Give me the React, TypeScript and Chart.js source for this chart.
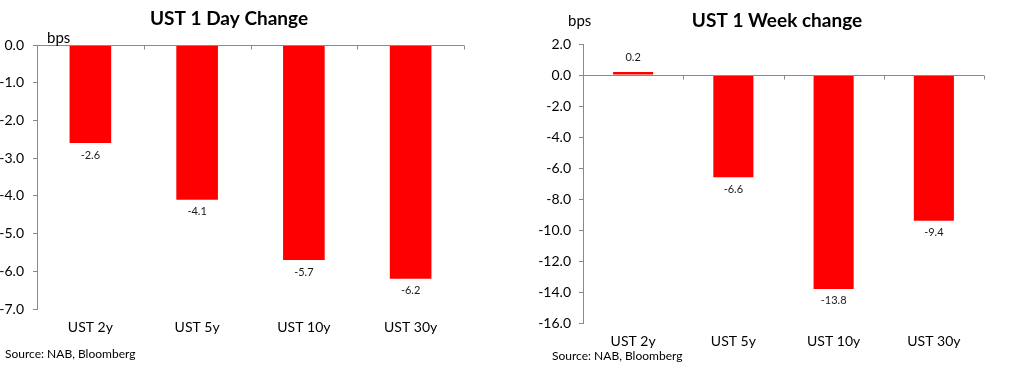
import React, { useEffect, useRef } from "react";
import { Chart, registerables } from "chart.js";

Chart.register(...registerables);

const categories = ["UST 2y", "UST 5y", "UST 10y", "UST 30y"];
const dayChange = [-2.6, -4.1, -5.7, -6.2];
const weekChange = [0.2, -6.6, -13.8, -9.4];
const dayTitle = "UST 1 Day Change";
const weekTitle = "UST 1 Week change";
const unitLabel = "bps";
const sourceText = "Source: NAB, Bloomberg";
const dayScale = [-7, 0, 1];
const weekScale = [-16, 2, 2];

const FONT = "Lato, 'Open Sans', 'DejaVu Sans', sans-serif";
const AXIS_COLOR = "#8a8a8a";
const BAR_COLOR = "#ff0000";

type Panel = {
  left: number;
  width: number;
  values: number[];
  title: string;
  scale: number[];
  areaLeft: number;
  areaTop: number;
  padRight: number;
  xAxisHeight: number;
  tickPad: number;
  barPct: number;
  titlePos: [number, number];
  bpsPos: [number, number];
  sourcePos: [number, number];
};

const panels: Panel[] = [
  {
    left: 0,
    width: 500,
    values: dayChange,
    title: dayTitle,
    scale: dayScale,
    areaLeft: 37,
    areaTop: 45,
    padRight: 36,
    xAxisHeight: 60,
    tickPad: 9,
    barPct: 0.39,
    titlePos: [229, 19],
    bpsPos: [47, 38],
    sourcePos: [5, 354],
  },
  {
    left: 510,
    width: 508,
    values: weekChange,
    title: weekTitle,
    scale: weekScale,
    areaLeft: 73,
    areaTop: 44,
    padRight: 34,
    xAxisHeight: 46,
    tickPad: 8,
    barPct: 0.4,
    titlePos: [267, 21],
    bpsPos: [58, 21],
    sourcePos: [42, 356],
  },
];

const decorPlugin = {
  id: "decor",
  afterDatasetsDraw(chart: any, _args: any, opts: any) {
    const { ctx, chartArea, scales } = chart;
    const xs = scales.x;
    const ys = scales.y;
    const y0 = Math.round(ys.getPixelForValue(0)) + 0.5;
    ctx.save();
    ctx.strokeStyle = AXIS_COLOR;
    ctx.lineWidth = 1;
    ctx.beginPath();
    ctx.moveTo(chartArea.left, y0);
    ctx.lineTo(chartArea.right, y0);
    const n = xs.ticks.length;
    for (let i = 0; i <= n; i++) {
      const px = Math.round(xs.getPixelForValue(i - 0.5)) + 0.5;
      ctx.moveTo(px, y0);
      ctx.lineTo(px, y0 + 4);
    }
    ctx.stroke();

    // data labels
    const meta = chart.getDatasetMeta(0);
    const data = chart.data.datasets[0].data as number[];
    ctx.fillStyle = "#1a1a1a";
    ctx.font = `11px ${FONT}`;
    ctx.textAlign = "center";
    ctx.textBaseline = "middle";
    meta.data.forEach((el: any, i: number) => {
      const v = data[i];
      const ty = v < 0 ? el.y + 12 : el.y - 14;
      ctx.fillText(v.toFixed(1), el.x, ty);
    });
    ctx.restore();
  },
  afterDraw(chart: any, _args: any, opts: any) {
    const { ctx } = chart;
    ctx.save();
    ctx.fillStyle = "#000";
    ctx.textBaseline = "middle";
    ctx.textAlign = "center";
    ctx.font = `bold 19px ${FONT}`;
    ctx.fillText(opts.title, opts.titlePos[0], opts.titlePos[1]);
    ctx.textAlign = "left";
    ctx.font = `15px ${FONT}`;
    ctx.fillText(opts.unit, opts.bpsPos[0], opts.bpsPos[1]);
    ctx.font = `12px ${FONT}`;
    ctx.fillText(opts.source, opts.sourcePos[0], opts.sourcePos[1]);
    ctx.restore();
  },
};

function BarPanel({ p }: { p: Panel }) {
  const ref = useRef<HTMLCanvasElement | null>(null);
  useEffect(() => {
    if (!ref.current) return;
    const chart = new Chart(ref.current, {
      type: "bar",
      data: {
        labels: categories,
        datasets: [
          {
            data: p.values,
            backgroundColor: BAR_COLOR,
            borderWidth: 0,
            barPercentage: p.barPct,
            categoryPercentage: 1,
          },
        ],
      },
      plugins: [decorPlugin as any],
      options: {
        animation: false,
        responsive: false,
        devicePixelRatio: 1,
        layout: { padding: { top: p.areaTop, right: p.padRight, left: 0, bottom: 0 } },
        plugins: {
          legend: { display: false },
          title: { display: false },
          tooltip: { enabled: false },
          decor: {
            title: p.title,
            titlePos: p.titlePos,
            unit: unitLabel,
            bpsPos: p.bpsPos,
            source: sourceText,
            sourcePos: p.sourcePos,
          },
        } as any,
        scales: {
          x: {
            type: "category",
            position: "bottom",
            offset: true,
            grid: { display: false, drawTicks: false },
            border: { display: false },
            ticks: {
              color: "#000",
              font: { family: FONT, size: 14 },
              padding: 10,
              maxRotation: 0,
              autoSkip: false,
            },
            afterFit: (s: any) => {
              s.height = p.xAxisHeight;
            },
          },
          y: {
            type: "linear",
            min: p.scale[0],
            max: p.scale[1],
            ticks: {
              stepSize: p.scale[2],
              color: "#000",
              font: { family: FONT, size: 14 },
              padding: p.tickPad,
              callback: (v: any) => Number(v).toFixed(1),
            },
            grid: {
              display: true,
              drawOnChartArea: false,
              drawTicks: true,
              tickLength: 4,
              color: AXIS_COLOR,
            },
            border: { display: true, color: AXIS_COLOR },
            afterFit: (s: any) => {
              s.width = p.areaLeft;
            },
          },
        },
      },
    });
    return () => chart.destroy();
  }, [p]);
  return (
    <canvas
      ref={ref}
      width={p.width}
      height={369}
      style={{ position: "absolute", left: p.left, top: 0, width: p.width, height: 369 }}
    />
  );
}

export default function App() {
  return (
    <div
      style={{
        position: "fixed",
        left: 0,
        top: 0,
        width: 1018,
        height: 369,
        background: "#fff",
        overflow: "hidden",
      }}
    >
      {panels.map((p, i) => (
        <BarPanel key={i} p={p} />
      ))}
    </div>
  );
}
